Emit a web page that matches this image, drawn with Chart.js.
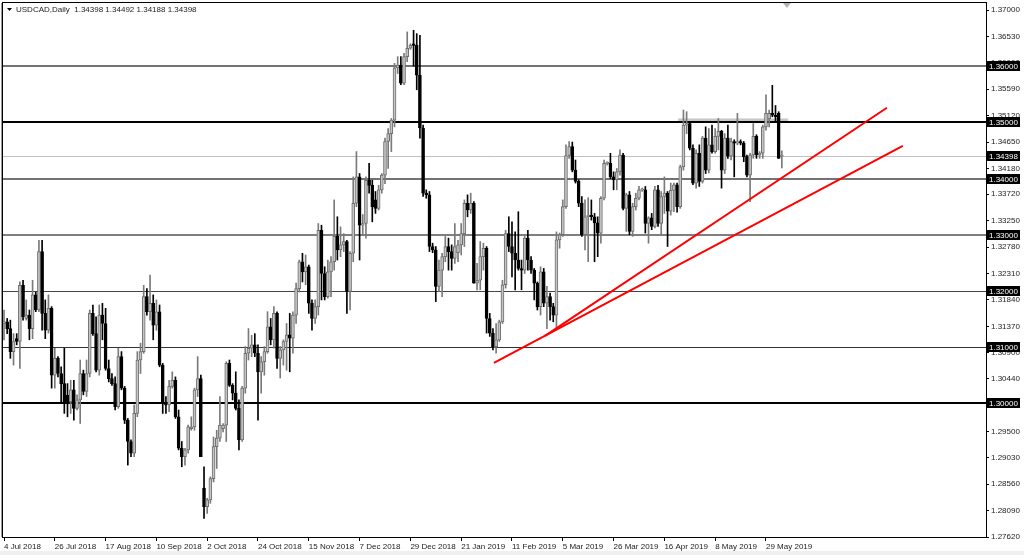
<!DOCTYPE html>
<html>
<head>
<meta charset="utf-8">
<script src="https://cdn.jsdelivr.net/npm/chart.js@4"></script>
<style>
  html, body { margin: 0; padding: 0; background: #fff; }
  canvas { display: block; }
</style>
</head>
<body>
<canvas id="myChart" width="1024" height="555"></canvas>
<script>
var title = "USDCAD,Daily  1.34398 1.34492 1.34188 1.34398";

// one label every 16 bars
var dateLabels = ["4 Jul 2018", "26 Jul 2018", "17 Aug 2018", "10 Sep 2018", "2 Oct 2018",
  "24 Oct 2018", "15 Nov 2018", "7 Dec 2018", "29 Dec 2018", "21 Jan 2019", "11 Feb 2019",
  "5 Mar 2019", "26 Mar 2019", "16 Apr 2019", "8 May 2019", "29 May 2019"];

var priceTicks = [1.37, 1.3653, 1.3606, 1.3559, 1.3512, 1.3465, 1.3418, 1.3372, 1.3325,
  1.3278, 1.3231, 1.3184, 1.3137, 1.309, 1.3044, 1.2997, 1.295, 1.2903, 1.2856, 1.2809, 1.2762];

var levels = [1.36, 1.35, 1.34398, 1.34, 1.33, 1.32, 1.31, 1.30];

var opens = [
  1.3142,1.3145,1.3133,1.3092,1.3115,1.3110,1.3210,1.3151,1.3157,1.3133,
  1.3193,1.3166,1.3270,1.3160,1.3130,1.3169,1.3050,1.3080,1.3053,1.3035,
  1.3014,1.3003,1.3024,1.2991,1.3006,1.3053,1.3021,1.3053,1.3160,1.3124,
  1.3059,1.3157,1.3142,1.3062,1.3044,1.3035,1.2994,1.3083,1.3027,1.2970,
  1.2932,1.2911,1.2982,1.3077,1.3092,1.3190,1.3163,1.3178,1.3139,1.3163,
  1.3068,1.3000,1.2997,1.3030,1.3041,1.2976,1.2920,1.2905,1.2917,1.2955,
  1.2958,1.3024,1.3044,1.2849,1.2816,1.2828,1.2866,1.2923,1.2938,1.2955,
  1.2961,1.3071,1.3032,1.3018,1.2991,1.2935,1.3027,1.3089,1.3098,1.3104,
  1.3089,1.3056,1.3074,1.3092,1.3136,1.3113,1.3160,1.3080,1.3095,1.3110,
  1.3122,1.3116,1.3157,1.3204,1.3252,1.3234,1.3243,1.3178,1.3151,1.3172,
  1.3308,1.3231,1.3190,1.3234,1.3252,1.3297,1.3273,1.3282,1.3288,1.3199,
  1.3267,1.3356,1.3403,1.3317,1.3320,1.3397,1.3388,1.3362,1.3347,1.3380,
  1.3406,1.3466,1.3480,1.3504,1.3597,1.3602,1.3570,1.3617,1.3632,1.3640,
  1.3637,1.3584,1.3490,1.3374,1.3371,1.3279,1.3273,1.3208,1.3237,1.3261,
  1.3279,1.3270,1.3258,1.3268,1.3282,1.3302,1.3356,1.3344,1.3356,1.3214,
  1.3219,1.3261,1.3276,1.3151,1.3125,1.3101,1.3113,1.3145,1.3211,1.3302,
  1.3279,1.3267,1.3255,1.3240,1.3237,1.3294,1.3255,1.3237,1.3214,1.3172,
  1.3234,1.3178,1.3190,1.3172,1.3157,1.3291,1.3300,1.3350,1.3441,1.3457,
  1.3415,1.3395,1.3356,1.3300,1.3332,1.3335,1.3332,1.3321,1.3303,1.3365,
  1.3427,1.3427,1.3403,1.3398,1.3412,1.3442,1.3347,1.3371,1.3306,1.3350,
  1.3365,1.3380,1.3380,1.3320,1.3330,1.3315,1.3380,1.3320,1.3368,1.3374,
  1.3342,1.3379,1.3389,1.3350,1.3421,1.3495,1.3498,1.3454,1.3392,1.3445,
  1.3395,1.3472,1.3415,1.3460,1.3448,1.3475,1.3484,1.3415,1.3472,1.3440,
  1.3466,1.3463,1.3466,1.3463,1.3439,1.3406,1.3442,1.3475,1.3442,1.3445,
  1.3492,1.3506,1.3516,1.3513,1.3516,1.34398];

var highs = [
  1.3166,1.3151,1.3148,1.3124,1.3124,1.3216,1.3219,1.3184,1.3166,1.3219,
  1.3198,1.3290,1.3290,1.3184,1.3193,1.3172,1.3098,1.3083,1.3065,1.3098,
  1.3035,1.3041,1.3041,1.3015,1.3077,1.3059,1.3077,1.3166,1.3175,1.3154,
  1.3175,1.3178,1.3169,1.3077,1.3053,1.3047,1.3098,1.3092,1.3030,1.2973,
  1.2935,1.2997,1.3092,1.3107,1.3210,1.3204,1.3228,1.3193,1.3184,1.3175,
  1.3071,1.3012,1.3041,1.3056,1.3047,1.2988,1.2932,1.2920,1.2961,1.2976,
  1.3027,1.3083,1.3050,1.2887,1.2831,1.2869,1.2940,1.2952,1.3012,1.2964,
  1.3074,1.3077,1.3035,1.3056,1.3006,1.3030,1.3101,1.3133,1.3121,1.3124,
  1.3104,1.3083,1.3101,1.3163,1.3151,1.3172,1.3163,1.3101,1.3113,1.3142,
  1.3160,1.3163,1.3214,1.3255,1.3267,1.3264,1.3246,1.3184,1.3184,1.3320,
  1.3317,1.3243,1.3255,1.3261,1.3362,1.3332,1.3314,1.3302,1.3290,1.3270,
  1.3403,1.3448,1.3409,1.3336,1.3403,1.3427,1.3397,1.3377,1.3388,1.3409,
  1.3472,1.3489,1.3507,1.3605,1.3617,1.3617,1.3623,1.3661,1.3640,1.3664,
  1.3658,1.3655,1.3495,1.3380,1.3377,1.3285,1.3279,1.3255,1.3267,1.3297,
  1.3294,1.3282,1.3320,1.3290,1.3320,1.3362,1.3371,1.3374,1.3359,1.3249,
  1.3288,1.3285,1.3279,1.3160,1.3133,1.3142,1.3148,1.3219,1.3308,1.3332,
  1.3323,1.3305,1.3341,1.3255,1.3297,1.3308,1.3261,1.3240,1.3216,1.3243,
  1.3240,1.3208,1.3196,1.3178,1.3305,1.3303,1.3362,1.3460,1.3466,1.3465,
  1.3433,1.3398,1.3368,1.3362,1.3366,1.3362,1.3338,1.3332,1.3368,1.3433,
  1.3430,1.3445,1.3412,1.3418,1.3451,1.3445,1.3374,1.3377,1.3356,1.3374,
  1.3386,1.3383,1.3386,1.3332,1.3338,1.3386,1.3388,1.3377,1.3403,1.3377,
  1.3392,1.3392,1.3392,1.3424,1.3522,1.3519,1.3500,1.3460,1.3451,1.3460,
  1.3475,1.3492,1.3489,1.3495,1.3489,1.3507,1.3486,1.3480,1.3495,1.3472,
  1.3469,1.3516,1.3469,1.3466,1.3442,1.3445,1.3498,1.3478,1.3448,1.3495,
  1.3549,1.3522,1.3566,1.3530,1.3519,1.34492];

var lows = [
  1.3113,1.3124,1.3080,1.3068,1.3104,1.3062,1.3148,1.3148,1.3113,1.3115,
  1.3163,1.3163,1.3130,1.3115,1.3125,1.3027,1.3027,1.3047,1.3000,1.2982,
  1.2976,1.2982,1.2970,1.2988,1.2964,1.3015,1.3012,1.3047,1.3121,1.3056,
  1.3050,1.3113,1.3059,1.3038,1.3032,1.2988,1.2991,1.3024,1.2964,1.2890,
  1.2905,1.2905,1.2976,1.3053,1.3089,1.3157,1.3148,1.3113,1.3130,1.3065,
  1.2982,1.2982,1.2985,1.3027,1.2973,1.2917,1.2887,1.2890,1.2911,1.2952,
  1.2952,1.3012,1.2905,1.2795,1.2804,1.2822,1.2860,1.2884,1.2932,1.2949,
  1.2932,1.3030,1.3006,1.2988,1.2917,1.2932,1.3018,1.3077,1.3083,1.3083,
  1.2970,1.3018,1.3050,1.3089,1.3104,1.3098,1.3062,1.3045,1.3068,1.3059,
  1.3056,1.3089,1.3142,1.3198,1.3216,1.3211,1.3160,1.3130,1.3142,1.3157,
  1.3184,1.3184,1.3187,1.3190,1.3237,1.3255,1.3261,1.3270,1.3160,1.3166,
  1.3252,1.3350,1.3255,1.3300,1.3294,1.3374,1.3323,1.3338,1.3344,1.3374,
  1.3391,1.3418,1.3448,1.3492,1.3587,1.3567,1.3567,1.3608,1.3630,1.3600,
  1.3558,1.3472,1.3368,1.3365,1.3270,1.3268,1.3181,1.3199,1.3190,1.3252,
  1.3237,1.3237,1.3249,1.3252,1.3264,1.3279,1.3332,1.3338,1.3214,1.3202,
  1.3202,1.3237,1.3125,1.3119,1.3095,1.3089,1.3110,1.3142,1.3205,1.3270,
  1.3225,1.3202,1.3237,1.3202,1.3231,1.3237,1.3231,1.3184,1.3166,1.3157,
  1.3172,1.3133,1.3148,1.3145,1.3133,1.3276,1.3297,1.3347,1.3436,1.3412,
  1.3392,1.3350,1.3297,1.3273,1.3252,1.3326,1.3252,1.3261,1.3285,1.3362,
  1.3424,1.3400,1.3380,1.3380,1.3406,1.3344,1.3306,1.3300,1.3297,1.3344,
  1.3362,1.3377,1.3303,1.3285,1.3309,1.3312,1.3315,1.3300,1.3338,1.3279,
  1.3335,1.3341,1.3340,1.3347,1.3415,1.3480,1.3451,1.3389,1.3383,1.3386,
  1.3392,1.3409,1.3410,1.3445,1.3445,1.3451,1.3383,1.3409,1.3436,1.3433,
  1.3403,1.3460,1.3460,1.3430,1.3403,1.3359,1.3436,1.3436,1.3436,1.3436,
  1.3486,1.3492,1.3510,1.3500,1.3436,1.34188];

var closes = [
  1.3145,1.3133,1.3092,1.3110,1.3110,1.3210,1.3154,1.3157,1.3133,1.3193,
  1.3166,1.3270,1.3160,1.3130,1.3169,1.3050,1.3080,1.3053,1.3035,1.3003,
  1.3003,1.3024,1.2991,1.3006,1.3053,1.3021,1.3053,1.3160,1.3124,1.3059,
  1.3157,1.3142,1.3062,1.3044,1.3035,1.2994,1.3083,1.3027,1.2970,1.2932,
  1.2911,1.2982,1.3077,1.3092,1.3190,1.3163,1.3178,1.3139,1.3163,1.3068,
  1.3000,1.2997,1.3030,1.3041,1.2976,1.2920,1.2905,1.2917,1.2958,1.2958,
  1.3024,1.3044,1.2905,1.2816,1.2828,1.2866,1.2923,1.2938,1.2961,1.2961,
  1.3071,1.3032,1.3018,1.2991,1.2935,1.3027,1.3089,1.3098,1.3104,1.3089,
  1.3056,1.3074,1.3092,1.3136,1.3113,1.3160,1.3080,1.3095,1.3110,1.3122,
  1.3116,1.3157,1.3204,1.3252,1.3234,1.3243,1.3178,1.3151,1.3172,1.3308,
  1.3231,1.3190,1.3234,1.3252,1.3297,1.3273,1.3282,1.3288,1.3199,1.3267,
  1.3356,1.3403,1.3317,1.3320,1.3397,1.3388,1.3350,1.3347,1.3380,1.3406,
  1.3466,1.3480,1.3504,1.3597,1.3602,1.3570,1.3617,1.3632,1.3637,1.3637,
  1.3584,1.3490,1.3374,1.3371,1.3279,1.3273,1.3208,1.3237,1.3261,1.3279,
  1.3270,1.3258,1.3279,1.3282,1.3302,1.3356,1.3344,1.3356,1.3214,1.3219,
  1.3261,1.3276,1.3151,1.3125,1.3101,1.3113,1.3145,1.3211,1.3302,1.3279,
  1.3267,1.3255,1.3240,1.3237,1.3294,1.3255,1.3237,1.3214,1.3172,1.3234,
  1.3178,1.3190,1.3172,1.3157,1.3291,1.3300,1.3350,1.3441,1.3457,1.3415,
  1.3395,1.3356,1.3300,1.3332,1.3335,1.3332,1.3321,1.3303,1.3365,1.3427,
  1.3427,1.3403,1.3398,1.3412,1.3442,1.3347,1.3371,1.3306,1.3350,1.3365,
  1.3380,1.3380,1.3320,1.3330,1.3315,1.3380,1.3320,1.3368,1.3374,1.3342,
  1.3379,1.3389,1.3350,1.3421,1.3495,1.3498,1.3454,1.3392,1.3445,1.3395,
  1.3472,1.3415,1.3460,1.3448,1.3475,1.3484,1.3415,1.3472,1.3440,1.3466,
  1.3463,1.3466,1.3463,1.3439,1.3406,1.3442,1.3475,1.3442,1.3445,1.3492,
  1.3516,1.3516,1.3513,1.3510,1.3436,1.34398];

// trend lines: [bar index, price]
var trendLow = [[154.3, 1.3072], [283.1, 1.3458]];
var trendHigh = [[170.4, 1.3120], [278.1, 1.3526]];
// grey resistance zone: from bar, to bar, low price, high price
var zone = [212.3, 247, 1.3500, 1.3507];

var FONT = '"Liberation Sans", Arial, sans-serif';
var isBull = function (i) { return closes[i] >= opens[i]; };

var wickData = closes.map(function (c, i) { return { x: i, y: [lows[i], highs[i]] }; });
var bodyData = closes.map(function (c, i) { return { x: i, y: [opens[i], closes[i]] }; });

var levelStyle = {
  "1.36": ["#444", 1.5], "1.35": ["#000", 2], "1.34398": ["#c0c0c0", 1], "1.34": ["#444", 1.5],
  "1.33": ["#555", 1.5], "1.32": ["#444", 1], "1.31": ["#333", 1], "1.3": ["#000", 2]
};

var mt4Plugin = {
  id: "mt4",
  beforeDraw: function (chart) {
    var c = chart.ctx;
    c.save();
    c.fillStyle = "#fff";
    c.fillRect(0, 0, chart.width, chart.height);
    c.fillStyle = "#f0f0f0";
    c.fillRect(0, 551, chart.width, 4);
    c.restore();
  },
  beforeDatasetsDraw: function (chart) {
    var c = chart.ctx, a = chart.chartArea, x = chart.scales.x, y = chart.scales.y;
    c.save();
    // zone
    c.fillStyle = "#c8c8c8";
    var zx0 = x.getPixelForValue(zone[0]), zx1 = x.getPixelForValue(zone[1]);
    var zy0 = y.getPixelForValue(zone[3]), zy1 = y.getPixelForValue(zone[2]);
    c.fillRect(zx0, zy0, zx1 - zx0, zy1 - zy0);
    // horizontal levels
    levels.forEach(function (v) {
      var st = levelStyle[String(v)];
      var py = Math.round(y.getPixelForValue(v)) + (st[1] === 1 ? 0.5 : 0);
      c.strokeStyle = st[0];
      c.lineWidth = st[1];
      c.beginPath();
      c.moveTo(a.left, py);
      c.lineTo(a.right, py);
      c.stroke();
    });
    c.restore();
  },
  afterDraw: function (chart) {
    var c = chart.ctx, a = chart.chartArea, x = chart.scales.x, y = chart.scales.y;
    c.save();
    // frame
    c.strokeStyle = "#000";
    c.lineWidth = 1;
    c.strokeRect(a.left - 0.5, a.top - 0.5, a.right - a.left + 1, a.bottom - a.top + 1);
    c.strokeStyle = "#9a9a9a";
    c.beginPath();
    c.moveTo(a.left - 1.5, a.top);
    c.lineTo(a.left - 1.5, a.bottom);
    c.stroke();
    // level price boxes
    c.font = "8px " + FONT;
    c.textBaseline = "middle";
    c.textAlign = "left";
    levels.forEach(function (v) {
      var py = Math.round(y.getPixelForValue(v));
      c.fillStyle = "#000";
      c.fillRect(a.right + 1, py - 5, 33, 10);
      c.fillStyle = "#fff";
      c.fillText(v.toFixed(5), a.right + 3, py + 0.5);
    });
    // title
    c.fillStyle = "#000";
    c.beginPath();
    c.moveTo(7, 8); c.lineTo(12, 8); c.lineTo(9.5, 11); c.closePath();
    c.fill();
    c.fillStyle = "#222";
    c.fillText(title, 16, 10);
    // chart shift marker
    var sx = x.getPixelForValue(246.6);
    c.fillStyle = "#b4b4b4";
    c.beginPath();
    c.moveTo(sx - 4, a.top); c.lineTo(sx + 4, a.top); c.lineTo(sx, a.top + 5); c.closePath();
    c.fill();
    c.restore();
  }
};

const ctx = document.getElementById("myChart").getContext("2d");
const myChart = new Chart(ctx, {
  type: "bar",
  data: {
    datasets: [
      {
        type: "line",
        data: trendLow.map(function (p) { return { x: p[0], y: p[1] }; }),
        borderColor: "#ff0000",
        borderWidth: 2,
        pointRadius: 0,
        fill: false,
        order: 0,
      },
      {
        type: "line",
        data: trendHigh.map(function (p) { return { x: p[0], y: p[1] }; }),
        borderColor: "#ff0000",
        borderWidth: 2,
        pointRadius: 0,
        fill: false,
        order: 0,
      },
      {
        data: bodyData,
        barThickness: 3,
        grouped: false,
        minBarLength: 1,
        borderWidth: 1,
        borderSkipped: false,
        backgroundColor: function (c) { return isBull(c.dataIndex) ? "#c4c4c4" : "#000"; },
        borderColor: function (c) { return isBull(c.dataIndex) ? "#6e6e6e" : "#000"; },
        order: 1,
      },
      {
        data: wickData,
        barThickness: 1,
        grouped: false,
        borderWidth: 0,
        backgroundColor: function (c) { return isBull(c.dataIndex) ? "#7a7a7a" : "#000"; },
        order: 2,
      },
    ],
  },
  options: {
    responsive: false,
    animation: false,
    devicePixelRatio: 1,
    layout: { padding: { left: 3, top: 3, right: 0, bottom: 0 } },
    plugins: { legend: { display: false }, tooltip: { enabled: false } },
    scales: {
      x: {
        type: "linear",
        min: -0.315,
        max: 309.3,
        offset: false,
        border: { display: false },
        grid: { offset: false, drawOnChartArea: false, drawTicks: true, tickLength: 4, color: "#000" },
        afterBuildTicks: function (s) {
          s.ticks = dateLabels.map(function (l, k) { return { value: k * 16 }; });
        },
        afterFit: function (s) {
          s.height = 18;
          s.paddingLeft = 0;
          s.paddingRight = 0;
        },
        ticks: {
          autoSkip: false,
          maxRotation: 0,
          align: "start",
          padding: 1,
          color: "#222",
          font: { family: FONT, size: 8 },
          callback: function (v) { return dateLabels[Math.round(v / 16)]; },
        },
      },
      y: {
        position: "right",
        min: 1.2762,
        max: 1.37125,
        border: { display: false },
        grid: { drawOnChartArea: false, drawTicks: true, tickLength: 3, color: "#000" },
        afterBuildTicks: function (s) {
          s.ticks = priceTicks.map(function (v) { return { value: v }; });
        },
        afterFit: function (s) {
          s.width = 38;
          s.paddingTop = 0;
          s.paddingBottom = 0;
        },
        ticks: {
          autoSkip: false,
          padding: 2,
          color: "#222",
          font: { family: FONT, size: 8 },
          callback: function (v) { return Number(v).toFixed(5); },
        },
      },
    },
  },
  plugins: [mt4Plugin],
});
</script>
</body>
</html>
